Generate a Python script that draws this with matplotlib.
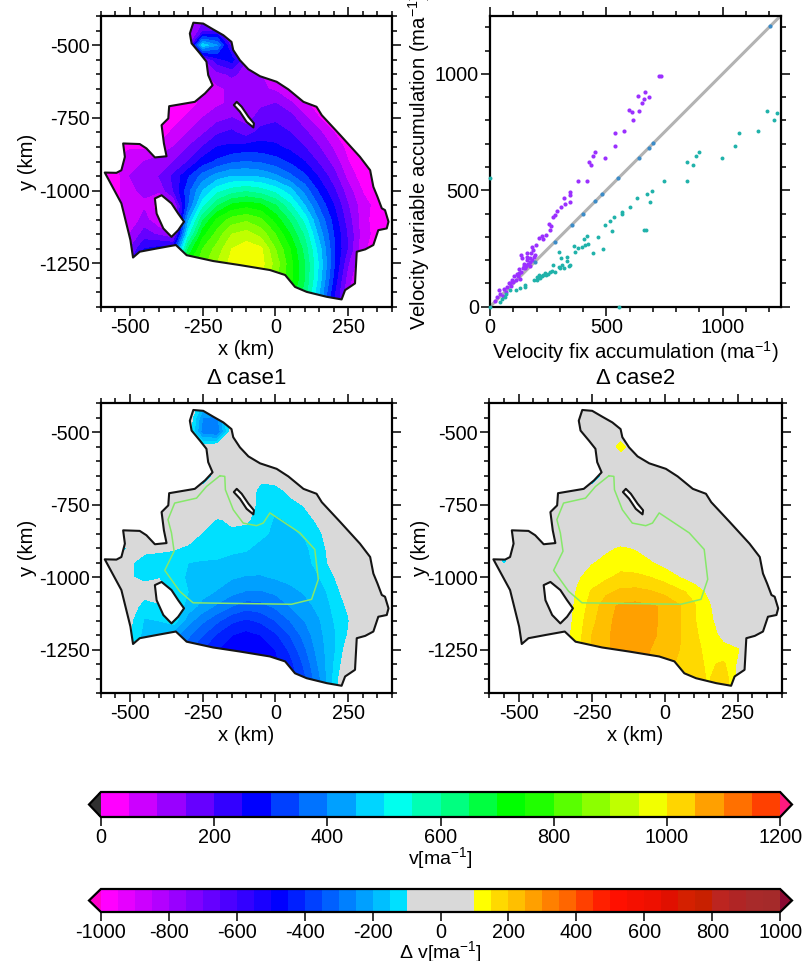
import numpy as np
import matplotlib
matplotlib.use("Agg")
import matplotlib.pyplot as plt
from matplotlib.colors import ListedColormap, BoundaryNorm
from matplotlib.cm import ScalarMappable
from matplotlib.path import Path
from matplotlib.patches import PathPatch
from matplotlib.ticker import MultipleLocator, FixedLocator

plt.rcParams['font.family'] = ['Liberation Sans', 'DejaVu Sans']
plt.rcParams['mathtext.fontset'] = 'custom'
plt.rcParams['mathtext.rm'] = 'Liberation Sans'
plt.rcParams['mathtext.default'] = 'regular'
plt.rcParams['axes.unicode_minus'] = False

W, H = 808, 961

grid_x = [-600,-550,-500,-450,-400,-350,-300,-250,-200,-150,-100,-50,0,50,100,150,200,250,300,350,400]
grid_y = [-400,-450,-500,-550,-600,-650,-700,-750,-800,-850,-900,-950,-1000,-1050,-1100,-1150,-1200,-1250,-1300,-1350,-1400]

outline_x = [-282,-248,-214,-179,-151,-145,-122,-93,-53,4,44,96,141,159,222,290,325,336,350,365,376,388,382,353,336,308,279,273,239,227,176,107,67,33,-19,-122,-214,-305,-342,-408,-466,-489,-498,-529,-586,-546,-529,-517,-523,-466,-443,-414,-374,-383,-391,-368,-365,-277,-242,-216,-231,-237,-259,-288,-294]
outline_y = [-423,-426,-446,-466,-489,-517,-552,-583,-607,-626,-652,-695,-712,-741,-809,-884,-930,-987,-1021,-1061,-1067,-1107,-1130,-1136,-1187,-1202,-1210,-1319,-1342,-1374,-1365,-1348,-1331,-1290,-1273,-1256,-1242,-1222,-1187,-1199,-1210,-1230,-1170,-1044,-938,-939,-930,-884,-838,-840,-855,-886,-882,-838,-775,-752,-710,-695,-666,-638,-603,-557,-529,-494,-460]
hole1_x = [-414,-391,-357,-334,-314,-334,-357,-385,-408]
hole1_y = [-1027,-1016,-1044,-1079,-1107,-1136,-1159,-1130,-1079]
hole2_x = [-133,-116,-93,-74,-76,-99,-122,-143]
hole2_y = [-695,-712,-746,-769,-783,-764,-729,-706]
green_x = [-191,-174,-172,-145,-111,-65,-42,-19,84,135,147,124,55,-283,-329,-380,-348,-357,-369,-346,-271,-237,-191]
green_y = [-650,-652,-698,-767,-813,-822,-813,-778,-847,-904,-1007,-1076,-1093,-1088,-1048,-976,-910,-847,-801,-744,-727,-687,-650]

velocity = [
 [10,10,10,10,10,10,60,130,150,60,10,10,10,10,10,10,10,10,10,10,10],
 [10,10,10,10,10,10,90,170,200,90,40,10,10,10,10,10,10,10,10,10,10],
 [10,10,10,10,10,10,110,480,400,170,80,30,10,10,10,10,10,10,10,10,10],
 [10,10,10,10,10,10,100,130,230,270,150,80,30,10,10,10,10,10,10,10,10],
 [10,10,10,10,10,10,60,90,130,160,130,100,60,20,10,10,10,10,10,10,10],
 [10,10,10,10,10,10,30,60,90,110,120,110,90,40,10,10,10,10,10,10,10],
 [10,10,10,10,10,20,30,60,90,110,130,140,150,110,60,20,10,10,10,10,10],
 [10,10,10,10,10,30,60,100,130,150,130,170,190,170,110,50,20,10,10,10,10],
 [10,10,10,10,20,60,100,140,190,210,170,220,220,200,160,110,50,20,10,10,10],
 [10,30,40,40,60,100,150,200,250,260,270,270,260,235,200,150,90,30,10,10,10],
 [10,50,100,100,120,150,200,270,310,340,350,340,320,290,250,190,130,50,20,10,10],
 [10,20,100,120,150,210,290,370,420,450,450,440,410,360,310,240,170,80,20,10,10],
 [10,30,90,110,110,200,330,450,530,570,590,570,530,470,380,290,210,120,45,40,40],
 [10,20,100,90,20,80,340,530,640,710,730,710,650,560,450,340,250,150,70,30,10],
 [10,10,60,120,50,50,430,640,760,820,840,810,730,640,530,390,280,170,70,20,10],
 [10,10,100,170,140,100,520,730,820,900,920,880,800,700,590,430,300,190,70,30,10],
 [10,10,150,250,270,280,650,800,870,950,980,960,850,750,630,470,310,190,60,20,10],
 [10,10,200,280,300,400,740,830,900,970,1000,970,880,770,650,490,310,150,40,10,10],
 [10,10,200,280,300,400,740,830,900,950,980,950,860,770,650,480,290,120,30,10,10],
 [10,10,200,280,300,400,740,830,880,920,950,900,820,740,630,450,260,100,30,10,10],
 [10,10,200,280,300,400,740,830,880,920,950,900,820,740,630,450,260,100,30,10,10],
]

delta_case1 = [
 [0,0,0,0,0,0,0,-150,-180,0,0,0,0,0,0,0,0,0,0,0,0],
 [0,0,0,0,0,0,-40,-250,-260,-60,0,0,0,0,0,0,0,0,0,0,0],
 [0,0,0,0,0,0,-50,-280,-300,-60,0,0,0,0,0,0,0,0,0,0,0],
 [0,0,0,0,0,0,0,-70,-50,0,0,0,0,0,0,0,0,0,0,0,0],
 [0,0,0,0,0,0,0,0,0,0,0,0,0,0,0,0,0,0,0,0,0],
 [0,0,0,0,0,0,0,-300,0,0,0,-80,-60,0,0,0,0,0,0,0,0],
 [0,0,0,0,0,0,0,0,0,0,-60,-120,-125,-80,0,0,0,0,0,0,0],
 [0,0,0,0,0,0,0,0,0,0,-50,-130,-140,-125,-95,-40,0,0,0,0,0],
 [0,0,0,0,0,0,0,-60,-105,-90,-90,-130,-155,-145,-125,-85,-20,0,0,0,0],
 [0,0,0,0,0,-40,-70,-105,-120,-110,-120,-140,-160,-160,-145,-110,-60,0,0,0,0],
 [0,-300,-50,-90,-92,-95,-110,-125,-135,-140,-145,-165,-170,-170,-160,-125,-70,0,0,0,0],
 [0,-60,-95,-115,-120,-130,-150,-155,-155,-165,-170,-175,-175,-175,-165,-135,-75,-20,0,0,0],
 [0,-40,-95,-115,-105,-135,-155,-165,-175,-195,-205,-205,-195,-185,-175,-150,-105,-50,0,0,0],
 [0,0,-60,-70,-60,-110,-150,-180,-205,-235,-255,-255,-240,-215,-195,-170,-130,-60,0,0,0],
 [0,0,-60,-130,-110,-110,-170,-220,-260,-300,-330,-320,-290,-250,-220,-185,-140,-90,-20,0,0],
 [0,0,-90,-155,-150,-120,-230,-290,-340,-390,-410,-390,-350,-300,-250,-205,-150,-105,-30,0,0],
 [0,0,-90,-170,-200,-230,-290,-350,-410,-450,-470,-450,-410,-350,-280,-215,-160,-95,-20,0,0],
 [0,0,-100,-200,-250,-300,-340,-400,-450,-490,-500,-480,-450,-390,-310,-225,-160,-70,0,0,0],
 [0,0,-100,-200,-250,-300,-340,-400,-460,-490,-500,-490,-460,-420,-340,-240,-150,-50,0,0,0],
 [0,0,-100,-200,-250,-300,-340,-400,-460,-490,-500,-490,-460,-430,-360,-260,-140,-20,0,0,0],
 [0,0,-100,-200,-250,-300,-340,-400,-460,-490,-500,-490,-460,-430,-360,-260,-140,-20,0,0,0],
]

delta_case2 = [
 [0,0,0,0,0,0,0,0,0,0,0,0,0,0,0,0,0,0,0,0,0],
 [0,0,0,0,0,0,0,0,0,0,0,0,0,0,0,0,0,0,0,0,0],
 [0,0,0,0,0,0,0,0,0,0,0,0,0,0,0,0,0,0,0,0,0],
 [0,0,0,0,0,0,0,0,0,150,0,0,0,0,0,0,0,0,0,0,0],
 [0,0,0,0,0,0,0,0,0,0,0,0,0,0,0,0,0,0,0,0,0],
 [0,0,0,0,0,0,0,-300,0,0,0,0,0,0,0,0,0,0,0,0,0],
 [0,0,0,0,0,0,0,0,0,0,0,0,0,0,0,0,0,0,0,0,0],
 [0,0,0,0,0,0,0,0,0,0,0,0,0,0,0,0,0,0,0,0,0],
 [0,0,0,0,0,0,0,0,0,0,0,0,0,0,0,0,0,0,0,0,0],
 [0,0,0,0,0,0,0,0,30,50,40,20,0,0,0,0,0,0,0,0,0],
 [0,-300,0,0,0,0,20,60,90,105,95,70,40,20,0,0,0,0,0,0,0],
 [0,-115,0,0,0,10,60,95,115,125,125,105,80,60,20,0,0,0,0,0,0],
 [0,0,0,0,0,40,90,125,140,165,160,150,130,100,70,40,0,0,0,0,0],
 [0,0,0,0,0,40,105,155,190,210,215,205,185,160,135,85,30,0,0,0,0],
 [0,0,0,0,0,50,115,170,230,260,265,255,245,205,155,110,40,0,0,0,0],
 [0,0,0,0,0,60,120,185,235,270,270,265,235,205,155,115,65,10,0,0,0],
 [0,0,0,0,0,70,125,200,240,275,270,265,230,205,160,125,85,40,0,0,0],
 [0,0,0,0,0,80,130,205,240,275,275,250,225,200,165,135,115,105,30,0,0],
 [0,0,0,0,0,80,130,205,240,275,270,240,220,190,170,140,160,90,0,0,0],
 [0,0,0,0,0,80,130,205,240,275,270,240,215,190,170,145,190,80,0,0,0],
 [0,0,0,0,0,80,130,205,240,275,270,240,215,190,170,145,190,80,0,0,0],
]

purple_x = [734,728,665,636,684,662,655,597,612,640,616,578,538,537,450,496,443,424,435,378,417,345,342,345,317,305,288,270,252,259,223,209,199,230,180,137,158,173,151,122,20,30,45,40,60,75,85,95,90,110,105,120,125,135,140,150,155,165,170,180,190,125,145,160,175,135,160,185,100,115,130,145,170,195,80,70,55,240,262,280,322]
purple_y = [990,990,921,907,900,893,873,844,835,839,801,753,746,692,663,637,646,620,607,541,538,492,478,449,466,430,409,385,354,330,304,294,265,291,258,208,215,208,179,136,25,40,55,70,75,85,100,115,90,115,130,130,145,150,165,165,175,185,190,200,215,160,185,200,230,220,230,245,105,140,120,175,175,220,100,65,45,310,345,395,440]
teal_x = [1192,1233,1223,1151,1072,1053,996,899,885,875,846,846,748,695,676,688,633,601,568,568,662,670,535,518,496,525,465,417,403,410,396,360,486,443,367,331,295,305,273,342,295,259,230,201,190,151,130,86,65,43,200,215,240,250,280,300,320,340,210,225,205,235,265,310,330,380,420,150,110,70,50]
teal_y = [842,832,801,753,746,692,637,666,646,607,620,538,541,495,485,449,465,430,406,399,330,330,387,366,352,326,298,304,290,265,258,261,247,232,237,212,237,208,179,179,172,150,136,129,115,86,79,72,43,22,115,125,135,140,150,165,165,175,135,130,125,145,155,180,195,250,270,95,70,55,35]
steel_vals = [194,280,352,400,453,482,551,640,683,702,1206]
edge_x = [0,555,0]
edge_y = [552,0,0]

v_levels = list(range(0, 1201, 50))
v_colors = ['#FF00FF','#CC00FF','#9900FF','#6600FF','#3300FF','#0000FF','#0040FF','#0073FF','#00A0FF','#00D5FF','#00FFEE','#00FFB3','#00FF80','#00FF40','#00FF00','#20FF00','#59FF00','#8CFF00','#BFFF00','#F2FF00','#FFD500','#FFA000','#FF7000','#FF4000']
d_levels = [-1000,-950,-900,-850,-800,-750,-700,-650,-600,-550,-500,-450,-400,-350,-300,-250,-200,-150,-100,100,150,200,250,300,350,400,450,500,550,600,650,700,750,800,850,900,950,1000]
d_colors = ['#FF00FF','#E600FF','#CC00FF','#B300FF','#9900FF','#8000FF','#6600FF','#4C00FF','#3300FF','#1A00FF','#0000FF','#001FFF','#0040FF','#0060FF','#0080FF','#00A0FF','#00BFFF','#00E0FF','#D9D9D9','#FFFF00','#FFD900','#FFBF00','#FFA000','#FF8000','#FF6600','#FF4000','#FF2000','#FF1000','#F51000','#EE1000','#E01000','#D42000','#C82000','#BC2520','#B02525','#A82A2A','#A52A2A']

v_cmap = ListedColormap(v_colors); v_cmap.set_under('#303030'); v_cmap.set_over('#FF1A7F')
d_cmap = ListedColormap(d_colors); d_cmap.set_under('#FF00CC'); d_cmap.set_over('#8B0A33')
v_norm = BoundaryNorm(v_levels, v_cmap.N)
d_norm = BoundaryNorm(d_levels, d_cmap.N)

TICK = 14.3
LAB = 14.6

fig = plt.figure(figsize=(W / 100, H / 100), dpi=100)

def add_axes(l, t, r, b):
    return fig.add_axes([l / W, 1 - b / H, (r - l) / W, (b - t) / H])

def ring(xs, ys):
    v = list(zip(xs, ys))
    return v + [v[0]]

def style(ax, major, minor):
    ax.xaxis.set_major_locator(major[0]); ax.xaxis.set_minor_locator(minor[0])
    ax.yaxis.set_major_locator(major[1]); ax.yaxis.set_minor_locator(minor[1])
    ax.tick_params(which='major', direction='out', length=6.5, width=1.1, top=True, right=True, labelsize=TICK, pad=1.5)
    ax.tick_params(which='minor', direction='out', length=3.6, width=1.1, top=True, right=True)
    for s in ax.spines.values():
        s.set_linewidth(1.6)

def ylabel_at(ax, box, text, right_px):
    ax.set_ylabel(text, fontsize=LAB)
    ax.yaxis.set_label_coords((right_px - box[0]) / (box[2] - box[0]), 0.5)

def map_panel(box, field, levels, cmap, norm, label_px, title=None, green=False):
    ax = add_axes(*box)
    X, Y = np.meshgrid(grid_x, grid_y)
    cs = ax.contourf(X, Y, np.array(field, float), levels=levels, cmap=cmap, norm=norm, extend='both')
    verts, codes = [], []
    outer = ring(outline_x, outline_y)
    for r in (outer, ring(hole1_x[::-1], hole1_y[::-1]), ring(hole2_x[::-1], hole2_y[::-1])):
        verts += r
        codes += [Path.MOVETO] + [Path.LINETO] * (len(r) - 2) + [Path.CLOSEPOLY]
    patch = PathPatch(Path(verts, codes), facecolor='none', edgecolor='none', lw=0)
    ax.add_patch(patch)
    cs.set_clip_path(patch)
    ax.add_patch(PathPatch(Path(verts, codes), facecolor='none', edgecolor='#151515', lw=1.5, joinstyle='round', zorder=5))
    if green:
        ax.plot(green_x, green_y, color='#86E86A', lw=1.1, zorder=6)
    ax.set_xlim(-600, 400); ax.set_ylim(-1400, -400)
    style(ax, (FixedLocator([-500, -250, 0, 250]), FixedLocator([-500, -750, -1000, -1250])),
          (MultipleLocator(50), MultipleLocator(50)))
    ax.set_xlabel('x (km)', fontsize=LAB, labelpad=2)
    ylabel_at(ax, box, 'y (km)', label_px)
    if title:
        ax.set_title(title, fontsize=16, pad=14)
    return ax

map_panel((100.7, 16, 392, 307), velocity, v_levels, v_cmap, v_norm, 37)
map_panel((100.7, 403.3, 392, 693.3), delta_case1, d_levels, d_cmap, d_norm, 37, '\u0394 case1', True)
map_panel((489.3, 403.3, 781.7, 693.3), delta_case2, d_levels, d_cmap, d_norm, 430, '\u0394 case2', True)

box2 = (490, 15.7, 780.7, 306.7)
ax = add_axes(*box2)
ax.plot([0, 1250], [0, 1250], color='#B3B3B3', lw=2.2, zorder=1)
ax.scatter(purple_x, purple_y, s=9, color='#9B30FF', lw=0, zorder=3)
ax.scatter(teal_x, teal_y, s=8, color='#20B2AA', lw=0, zorder=3)
ax.scatter(steel_vals, steel_vals, s=9, color='#3C8CC8', lw=0, zorder=3)
ax.scatter(edge_x, edge_y, s=8, color='#20B2AA', lw=0, zorder=3, clip_on=False)
ax.set_xlim(0, 1250); ax.set_ylim(0, 1250)
style(ax, (MultipleLocator(500), MultipleLocator(500)), (MultipleLocator(100), MultipleLocator(100)))
ax.set_xlabel('Velocity fix accumulation (ma$^{-1}$)', fontsize=LAB, labelpad=2)
ylabel_at(ax, box2, 'Velocity variable accumulation (ma$^{-1}$)', 432)

def cbar(box, cmap, norm, ticks, label, pad):
    cax = add_axes(*box)
    cb = fig.colorbar(ScalarMappable(norm=norm, cmap=cmap), cax=cax, orientation='horizontal',
                      extend='both', extendfrac=0.0175, spacing='proportional', ticks=ticks, drawedges=False)
    cb.outline.set_linewidth(1.6)
    cb.ax.tick_params(which='major', length=6.5, width=1.1, labelsize=TICK, pad=1.5)
    cb.ax.minorticks_off()
    cb.set_label(label, fontsize=14, labelpad=pad)

cbar((89, 792, 792, 817), v_cmap, v_norm, list(range(0, 1201, 200)), 'v[ma$^{-1}$]', -1.5)
cbar((89, 889, 792, 912), d_cmap, d_norm, list(range(-1000, 1001, 200)), '\u0394 v[ma$^{-1}$]', -2.5)

fig.savefig('out.png', dpi=100)
